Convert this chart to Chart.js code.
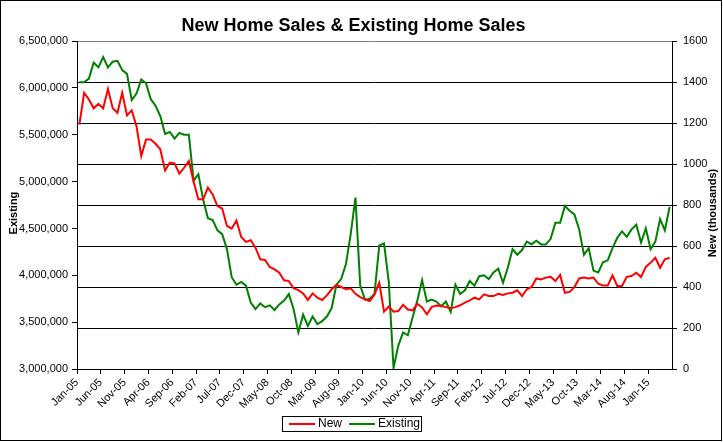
<!DOCTYPE html>
<html>
<head>
<meta charset="utf-8">
<script src="https://cdn.jsdelivr.net/npm/chart.js@4.4.0/dist/chart.umd.min.js"></script>
<style>
html,body{margin:0;padding:0;background:#fff;}
#wrap{width:723px;height:442px;position:relative;}
</style>
</head>
<body>
<div id="wrap"><canvas id="c" width="723" height="442"></canvas></div>
<script>
// ---- Data ----
const MONTHS = ['Jan','Feb','Mar','Apr','May','Jun','Jul','Aug','Sep','Oct','Nov','Dec'];
const categories = [];
for (let k = 0; k < 125; k++) {
  categories.push(MONTHS[k % 12] + '-' + String(5 + Math.floor(k / 12)).padStart(2, '0'));
}
const labelEvery = 5;

// New home sales (thousands), right axis
const newSales = [
  1193,1348,1315,1272,1294,1272,1367,1272,1250,1348,
  1237,1262,1185,1039,1120,1120,1099,1072,969,1007,
  1003,953,982,1015,914,828,828,885,852,795,
  783,698,685,725,644,620,628,592,535,532,
  498,486,470,433,429,394,385,369,337,369,
  348,337,359,389,410,400,389,394,367,351,
  340,332,364,421,280,305,280,283,313,290,
  286,318,300,267,302,310,307,302,297,302,
  311,324,335,348,340,364,356,356,367,361,
  369,372,384,356,389,400,442,437,446,450,
  429,459,372,376,400,442,446,442,446,416,
  408,408,457,405,405,450,454,470,449,498,
  519,543,494,535,543
];

// Existing home sales, left axis
const existingSales = [
  6060000,6060000,6100000,6270000,6220000,6330000,6220000,6280000,6290000,6190000,
  6150000,5870000,5940000,6090000,6050000,5880000,5810000,5700000,5510000,5530000,
  5460000,5520000,5500000,5500000,5010000,5080000,4810000,4610000,4590000,4480000,
  4440000,4280000,3980000,3900000,3930000,3890000,3710000,3640000,3700000,3660000,
  3680000,3630000,3690000,3730000,3800000,3640000,3390000,3580000,3460000,3560000,
  3480000,3510000,3560000,3650000,3900000,3960000,4120000,4440000,4830000,3890000,
  3740000,3750000,3800000,4320000,4340000,3930000,3010000,3250000,3390000,3360000,
  3550000,3730000,3950000,3720000,3740000,3720000,3670000,3720000,3610000,3900000,
  3800000,3840000,3940000,3890000,3990000,4000000,3960000,4030000,4070000,3920000,
  4080000,4280000,4220000,4270000,4360000,4330000,4370000,4330000,4330000,4390000,
  4560000,4560000,4740000,4690000,4650000,4490000,4220000,4290000,4050000,4030000,
  4140000,4160000,4290000,4400000,4470000,4410000,4490000,4540000,4350000,4500000,
  4280000,4360000,4600000,4480000,4730000
];

const leftAxis = {min: 3000000, max: 6500000, step: 500000};
const rightAxis = {min: 0, max: 1600, step: 200};

// ---- Chart ----
const FONT = '"Liberation Sans", Arial, Helvetica, sans-serif';
Chart.defaults.font.family = FONT;
Chart.defaults.color = '#000';

const framePlugin = {
  id: 'frame',
  afterDraw(chart) {
    const ctx = chart.ctx;
    ctx.save();
    ctx.strokeStyle = '#000';
    ctx.lineWidth = 1;
    ctx.strokeRect(0.5, 0.5, 721, 440);

    // legend (boxed, line samples)
    const boxL = 282, boxT = 416, boxW = 140, boxH = 15;
    ctx.strokeRect(boxL + 0.5, boxT + 0.5, boxW - 1, boxH);
    ctx.font = '12px ' + FONT;
    ctx.textAlign = 'left';
    ctx.textBaseline = 'middle';
    const cy = boxT + boxH / 2 + 0.5;
    let x = boxL + 7;
    chart.data.datasets.forEach(ds => {
      ctx.strokeStyle = ds.borderColor;
      ctx.lineWidth = 2;
      ctx.beginPath();
      ctx.moveTo(x, cy);
      ctx.lineTo(x + 26, cy);
      ctx.stroke();
      x += 29;
      ctx.fillStyle = '#000';
      ctx.fillText(ds.label, x, cy);
      x += ctx.measureText(ds.label).width + 7;
    });

    // axis titles
    const ca = chart.chartArea;
    const midY = (ca.top + ca.bottom) / 2 + 8;
    ctx.fillStyle = '#000';
    ctx.font = 'bold 11px ' + FONT;
    ctx.textAlign = 'center';
    ctx.textBaseline = 'middle';
    ctx.save();
    ctx.translate(14, midY);
    ctx.rotate(-Math.PI / 2);
    ctx.fillText('Existing', 0, 0);
    ctx.restore();
    ctx.save();
    ctx.translate(713, midY);
    ctx.rotate(-Math.PI / 2);
    ctx.fillText('New (thousands)', 0, 0);
    ctx.restore();
    ctx.restore();
  }
};

new Chart(document.getElementById('c'), {
  type: 'line',
  data: {
    labels: categories,
    datasets: [
      {label: 'New', data: newSales, yAxisID: 'y1', borderColor: '#ff0000', backgroundColor: '#ff0000',
       borderWidth: 2, pointRadius: 0, tension: 0},
      {label: 'Existing', data: existingSales, yAxisID: 'y', borderColor: '#008000', backgroundColor: '#008000',
       borderWidth: 2, pointRadius: 0, tension: 0}
    ]
  },
  options: {
    responsive: false,
    animation: false,
    devicePixelRatio: 1,
    layout: {padding: {left: 0, right: 16, top: 0, bottom: 31}},
    plugins: {
      title: {display: true, text: 'New Home Sales & Existing Home Sales', color: '#000',
              font: {size: 18, weight: 'bold'}, padding: {top: 15.5, bottom: 4}},
      legend: {display: false},
      tooltip: {enabled: false}
    },
    scales: {
      x: {
        type: 'category', offset: true,
        grid: {offset: true, drawOnChartArea: false, drawTicks: true, tickLength: 5,
               tickColor: c => (c.index % labelEvery === 0 ? '#000' : 'rgba(0,0,0,0)'), color: '#000'},
        border: {color: '#000', width: 1},
        ticks: {autoSkip: false, maxRotation: 45, minRotation: 45, labelOffset: -2.4, padding: 2,
                font: {size: 11}, color: '#000',
                callback: (v, i) => (i % labelEvery === 0 ? categories[i] : '')},
        afterFit: s => { s.height = 42; }
      },
      y: {
        position: 'left', min: leftAxis.min, max: leftAxis.max,
        ticks: {stepSize: leftAxis.step, font: {size: 11}, color: '#000', padding: 4,
                callback: v => Number(v).toLocaleString('en-US')},
        grid: {drawOnChartArea: false, tickLength: 5, tickColor: '#000', color: '#000'},
        border: {color: '#000', width: 1},
        afterFit: s => { s.width = 77; }
      },
      y1: {
        position: 'right', min: rightAxis.min, max: rightAxis.max,
        ticks: {stepSize: rightAxis.step, font: {size: 11}, color: '#000', padding: 6,
                callback: v => String(v)},
        grid: {drawOnChartArea: true, tickLength: 5, tickColor: '#000',
               color: c => (c.tick && c.tick.value === rightAxis.max ? '#808080' : '#000')},
        border: {color: '#000', width: 1},
        afterFit: s => { s.width = 35; }
      }
    }
  },
  plugins: [framePlugin]
});
</script>
</body>
</html>
